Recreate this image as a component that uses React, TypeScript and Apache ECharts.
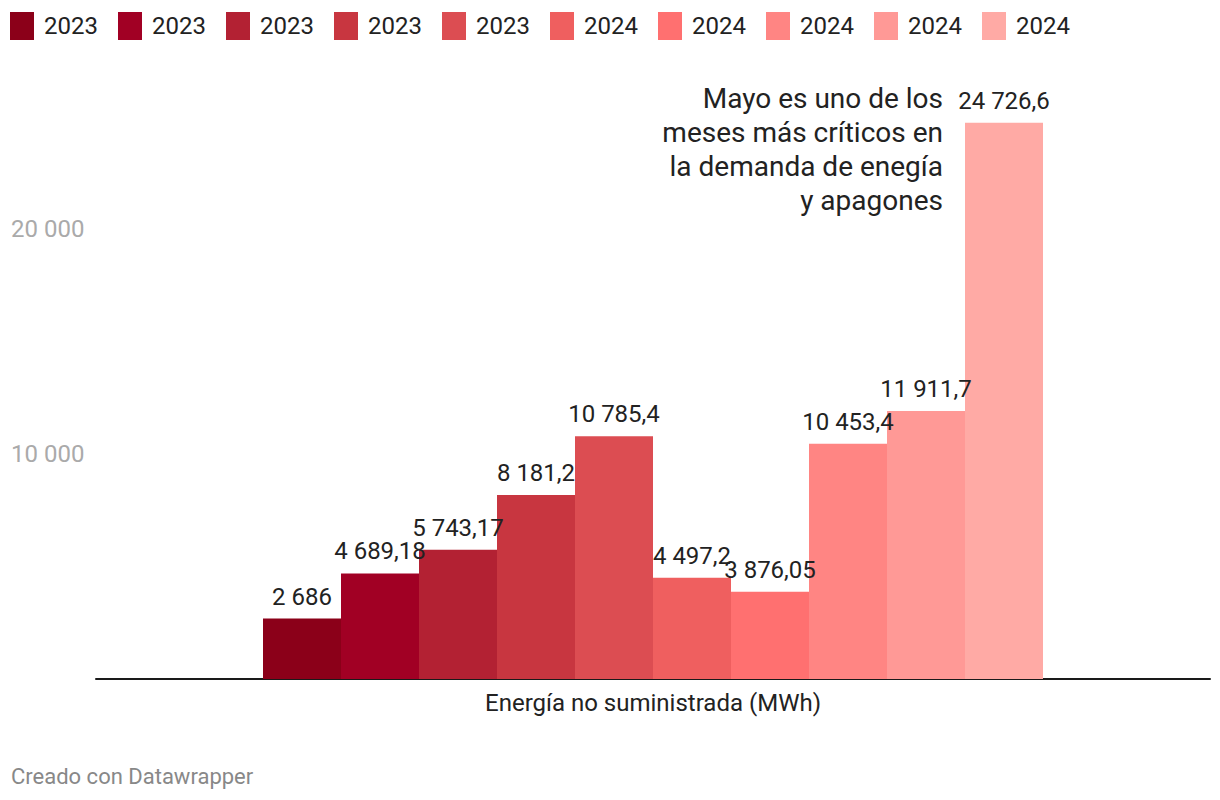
import React, { useEffect, useRef } from "react";
import * as echarts from "echarts";

const category = ["Energía no suministrada (MWh)"];
const seriesNames = ["ene 2023", "feb 2023", "mar 2023", "abr 2023", "may 2023", "ene 2024", "feb 2024", "mar 2024", "abr 2024", "may 2024"];
const legendLabels = ["2023", "2023", "2023", "2023", "2023", "2024", "2024", "2024", "2024", "2024"];
const values = [2686, 4689.18, 5743.17, 8181.2, 10785.4, 4497.2, 3876.05, 10453.4, 11911.7, 24726.6];
const colors = ["#8b0019", "#a10024", "#b32133", "#c83640", "#dc4d52", "#ef5f5f", "#ff7070", "#ff8583", "#ff9996", "#ffaaa5"];
const yTicks = [10000, 20000];
const annotation = "Mayo es uno de los\nmeses más críticos en\nla demanda de enegía\ny apagones";
const footer = "Creado con Datawrapper";

const FONT = "Roboto, 'Noto Sans', sans-serif";

function fmt(v: number): string {
  const s = String(v);
  const [i, d] = s.split(".");
  const ip = i.replace(/\B(?=(\d{3})+(?!\d))/g, " ");
  return d ? ip + "," + d : ip;
}

export default function App() {
  const ref = useRef<HTMLDivElement>(null);
  useEffect(() => {
    document.body.style.margin = "0";
    if (!ref.current) return;
    const chart = echarts.init(ref.current, null, { renderer: "svg" });
    const legendGraphics: any[] = [];
    legendLabels.forEach((lab, i) => {
      legendGraphics.push({
        type: "rect",
        shape: { x: 10 + 108 * i, y: 12, width: 24, height: 28 },
        style: { fill: colors[i] },
      });
      legendGraphics.push({
        type: "text",
        x: 44 + 108 * i,
        y: 26,
        style: { text: lab, fill: "#222", font: `24px ${FONT}`, textVerticalAlign: "middle", verticalAlign: "middle" },
      });
    });
    chart.setOption({
      animation: false,
      grid: { left: 96, right: 10, top: 116.5, bottom: 121, containLabel: false },
      xAxis: {
        type: "category",
        data: category,
        axisLine: { show: true, lineStyle: { color: "#1a1a1a", width: 2 } },
        axisTick: { show: false },
        axisLabel: { color: "#222", fontSize: 24, fontFamily: FONT, margin: 12 },
      },
      yAxis: {
        type: "value",
        min: 0,
        max: 25000,
        interval: 10000,
        splitLine: { show: false },
        axisLine: { show: false },
        axisTick: { show: false },
        axisLabel: {
          color: "#aaa",
          fontSize: 24,
          fontFamily: FONT,
          align: "left",
          margin: 85,
          showMaxLabel: false,
          formatter: (v: number) => (yTicks.includes(v) ? fmt(v) : ""),
        },
      },
      series: seriesNames.map((name, i) => ({
        name,
        type: "bar",
        barWidth: 78,
        barGap: "0%",
        data: [values[i]],
        itemStyle: { color: colors[i] },
        label: {
          show: true,
          position: "top",
          distance: 10,
          color: "#222",
          fontSize: 24,
          fontFamily: FONT,
          formatter: (p: any) => fmt(p.value),
        },
      })),
      graphic: [
        ...legendGraphics,
        {
          type: "text",
          x: 943,
          y: 81,
          style: {
            text: annotation,
            fill: "#222",
            font: `28px ${FONT}`,
            lineHeight: 34,
            textAlign: "right",
            align: "right",
          },
        },
        {
          type: "text",
          x: 11,
          y: 776,
          style: { text: footer, fill: "#888", font: `22px ${FONT}`, verticalAlign: "middle", textVerticalAlign: "middle" },
        },
      ],
    });
    return () => chart.dispose();
  }, []);
  return <div ref={ref} style={{ width: 1220, height: 800 }} />;
}
